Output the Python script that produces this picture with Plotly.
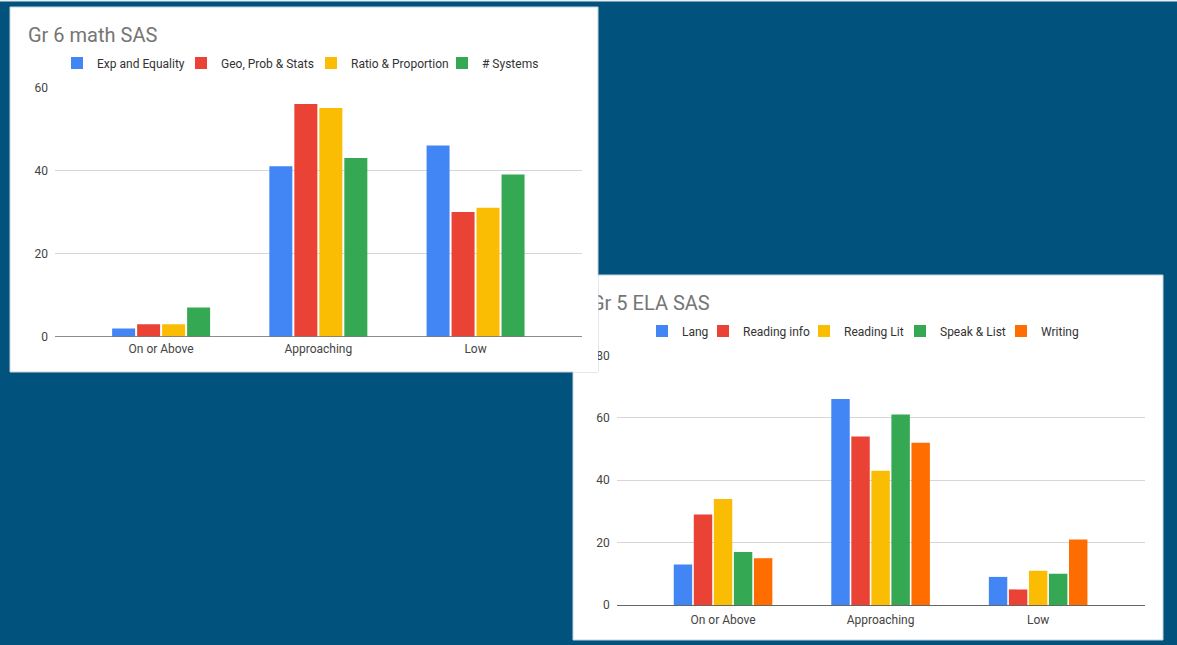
import plotly.graph_objects as go

# ---- data -------------------------------------------------------------
categories = ["On or Above", "Approaching", "Low"]

math_series = ["Exp and Equality", "Geo, Prob & Stats", "Ratio & Proportion", "# Systems"]
exp_equality = [2, 41, 46]
geo_prob_stats = [3, 56, 30]
ratio_proportion = [3, 55, 31]
num_systems = [7, 43, 39]

ela_series = ["Lang", "Reading info", "Reading Lit", "Speak & List", "Writing"]
lang = [13, 66, 9]
reading_info = [29, 54, 5]
reading_lit = [34, 43, 11]
speak_list = [17, 61, 10]
writing = [15, 52, 21]

math_ticks = [0, 20, 40, 60]
ela_ticks = [0, 20, 40, 60, 80]

# ---- styling ----------------------------------------------------------
W, H = 1177, 645
SLIDE = "#01527c"
PALETTE = ["#4285f4", "#ea4335", "#fbbc04", "#34a853", "#ff6d01"]
FONT = "Roboto"


def px_x(v):
    return v / W


def px_y(v):
    return 1 - v / H


fig = go.Figure()

# legend text starting columns (pixels) and row centres for each chart
math_legend_x = [95, 219, 349, 480]
ela_legend_x = [680, 741, 842, 938, 1039]
legend_rows = {"math": 63, "ela": 331}

legend_layouts = {}
n_leg = 0


def add_series(name, values, color, xa, ya, row, text_x):
    global n_leg
    n_leg += 1
    lid = "legend" if n_leg == 1 else f"legend{n_leg}"
    fig.add_trace(go.Bar(
        x=categories, y=values, name=name, showlegend=True,
        marker=dict(color=color, line=dict(width=0)),
        xaxis=xa, yaxis=ya, legend=lid, hoverinfo="x+y+name",
    ))
    legend_layouts[lid] = dict(
        x=px_x(text_x - 38), y=px_y(legend_rows[row]),
        xref="paper", yref="paper",
        xanchor="left", yanchor="middle", orientation="h",
        bgcolor="rgba(0,0,0,0)", borderwidth=0,
        font=dict(family=FONT, size=12, color="#333333"),
    )


for name, vals, col, tx in zip(math_series,
                               [exp_equality, geo_prob_stats, ratio_proportion, num_systems],
                               PALETTE, math_legend_x):
    add_series(name, vals, col, "x", "y", "math", tx)

for name, vals, col, tx in zip(ela_series,
                               [lang, reading_info, reading_lit, speak_list, writing],
                               PALETTE, ela_legend_x):
    add_series(name, vals, col, "x2", "y2", "ela", tx)

# ---- card backgrounds, titles, baseline --------------------------------
TITLE_FONT = dict(family=FONT, size=20, color="#757575")
shapes = [
    # thin light rule along the top of the slide
    dict(type="rect", xref="paper", yref="paper", x0=0, x1=1, y0=px_y(1.5), y1=1,
         fillcolor="#e8eef2", line=dict(width=0), layer="below"),
    # ELA card (sits underneath the math card)
    dict(type="rect", xref="paper", yref="paper",
         x0=px_x(573), x1=px_x(1163), y0=px_y(640), y1=px_y(275),
         fillcolor="white", line=dict(color="#c5d3dd", width=1), layer="below",
         label=dict(text="Gr 5 ELA SAS", textposition="top left", padding=15,
                    font=TITLE_FONT)),
    # math card
    dict(type="rect", xref="paper", yref="paper",
         x0=px_x(10), x1=px_x(598), y0=px_y(372), y1=px_y(7),
         fillcolor="white", line=dict(color="#c5d3dd", width=1), layer="below",
         label=dict(text="Gr 6 math SAS", textposition="top left", padding=15,
                    font=TITLE_FONT)),
    # part of the math card lying over the ELA axis labels
    dict(type="rect", xref="paper", yref="paper",
         x0=px_x(573), x1=px_x(598), y0=px_y(372), y1=px_y(275.5),
         fillcolor="white", line=dict(width=0), layer="above"),
    # math chart baseline
    dict(type="line", xref="x domain", yref="y", x0=0, x1=1, y0=0, y1=0,
         line=dict(color="#666666", width=1.2), layer="above"),
]

xaxis_common = dict(
    showgrid=False, zeroline=False, ticks="", fixedrange=True, automargin=False,
    ticklabelstandoff=3,
    tickfont=dict(family=FONT, size=12, color="#444444"),
)
yaxis_common = dict(
    showgrid=True, gridcolor="#d6d6d6", gridwidth=1, zeroline=False,
    showline=False, ticks="", fixedrange=True, automargin=False,
    ticklabelstandoff=6,
    tickfont=dict(family=FONT, size=12, color="#444444"),
)

fig.update_layout(
    template="none",
    width=W, height=H,
    margin=dict(l=0, r=0, t=0, b=0, pad=0),
    paper_bgcolor=SLIDE, plot_bgcolor="rgba(0,0,0,0)",
    font=dict(family=FONT),
    showlegend=True,
    barmode="group", bargap=0.364, bargroupgap=0.08,
    xaxis=dict(domain=[px_x(55), px_x(582)], anchor="y",
               range=[-0.675, 2.677], showline=False, **xaxis_common),
    yaxis=dict(domain=[px_y(336.7), px_y(87.3)], anchor="x",
               range=[0, 60], tickvals=math_ticks, **yaxis_common),
    xaxis2=dict(domain=[px_x(616.7), px_x(1144.8)], anchor="y2",
                range=[-0.675, 2.677], showline=True, linecolor="#666666",
                linewidth=1.2, **xaxis_common),
    yaxis2=dict(domain=[px_y(605), px_y(355.3)], anchor="x2",
                range=[0, 80], tickvals=ela_ticks, **yaxis_common),
    shapes=shapes,
    **legend_layouts,
)

fig.write_html("out.html")
